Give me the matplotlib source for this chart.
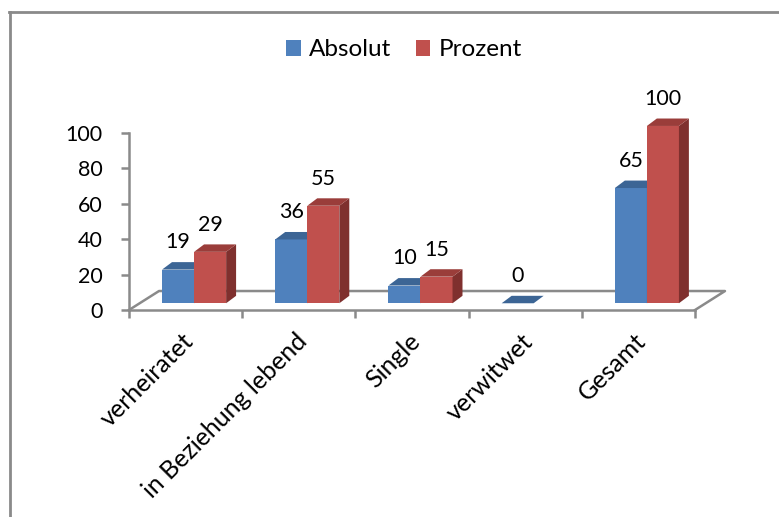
import matplotlib
matplotlib.use("Agg")
from matplotlib import pyplot as plt
from matplotlib.patches import Polygon
from matplotlib.lines import Line2D
from matplotlib.transforms import ScaledTranslation

plt.rcParams['font.family'] = ['Lato', 'DejaVu Sans']

categories = ["verheiratet", "in Beziehung lebend", "Single", "verwitwet", "Gesamt"]
absolut = [19, 36, 10, 0, 65]
prozent = [29, 55, 15, None, 100]   # no value shown for verwitwet
yticks = [0, 20, 40, 60, 80, 100]

blue, blue_top = "#4F81BD", "#3C6595"
red, red_top, red_side = "#C0504D", "#9A3D3A", "#7F302E"
grey = "#8A8A8A"
fs = 15.5

# fake 3d depth, in data units
floor_dx, floor_dy = 0.265, 10.7
shift_x, shift_y = 0.075, 3.8
bar_w = 0.283
ddx, ddy = 0.088, 4.2

fig = plt.figure(figsize=(7.79, 5.17), dpi=100)
ax = fig.add_axes([129 / 779, 207 / 517, 566 / 779, 177.3 / 517])
ax.set_xlim(0, len(categories))
ax.set_ylim(0, 100)

for s in ["top", "right"]:
    ax.spines[s].set_visible(False)
for s in ["left", "bottom"]:
    ax.spines[s].set_color(grey)
    ax.spines[s].set_linewidth(1.8)
    ax.spines[s].set_zorder(1)

n = len(categories)
# floor outline
ax.plot([0, floor_dx, n + floor_dx, n], [0, floor_dy, floor_dy, 0],
        color=grey, lw=1.8, clip_on=False, zorder=1)

ax.set_yticks(yticks)
ax.set_xticks(range(n + 1))
ax.set_xticklabels([])
ax.tick_params(axis="both", color=grey, width=1.8, length=6, labelsize=fs)
ax.tick_params(axis="y", pad=13)
ax.set_xticks([i + 0.5 for i in range(n)], minor=True)
ax.set_xticklabels(categories, minor=True, rotation=45, ha="right",
                   rotation_mode="anchor", fontsize=18)
ax.tick_params(axis="x", which="minor", length=0, pad=14)
shift = ScaledTranslation(-4 / 100, 0, fig.dpi_scale_trans)
for lab in ax.get_xticklabels(minor=True):
    lab.set_transform(lab.get_transform() + shift)


def draw_series(values, x0s, front, top, side, z, label):
    pts = [(x0, v) for x0, v in zip(x0s, values) if v is not None]
    bars = ax.bar([p[0] for p in pts], [p[1] for p in pts], width=bar_w,
                  bottom=shift_y, align="edge", color=front, zorder=z,
                  clip_on=False, label=label)
    for x0, v in pts:
        b, t = shift_y, shift_y + v
        ax.add_patch(Polygon([(x0 + bar_w, b), (x0 + bar_w, t),
                              (x0 + bar_w + ddx, t + ddy), (x0 + bar_w + ddx, b + ddy)],
                             closed=True, facecolor=side, edgecolor="none",
                             zorder=z, clip_on=False))
        ax.add_patch(Polygon([(x0, t), (x0 + bar_w, t),
                              (x0 + bar_w + ddx, t + ddy), (x0 + ddx, t + ddy)],
                             closed=True, facecolor=top, edgecolor="none",
                             zorder=z, clip_on=False))
        ax.annotate(str(v), (x0 + bar_w / 2, t), xytext=(0, 19.5),
                    textcoords="offset points", ha="center", va="center",
                    fontsize=fs, zorder=10, annotation_clip=False)
    return bars


xb = [i + 0.5 + shift_x - bar_w for i in range(n)]
xr = [i + 0.5 + shift_x for i in range(n)]
draw_series(absolut, xb, blue, blue_top, blue_top, 3, "Absolut")
draw_series(prozent, xr, red, red_top, red_side, 4, "Prozent")

leg = fig.legend(loc="center", bbox_to_anchor=(404 / 779, 1 - 50 / 517), ncol=2,
                 frameon=False, fontsize=17.5, handlelength=0.6, handleheight=0.6,
                 handletextpad=0.35, columnspacing=1.0)

# outer chart frame
fig.add_artist(Line2D([9.5 / 779, 9.5 / 779], [0, 1 - 11.5 / 517],
                      color=grey, lw=2, transform=fig.transFigure))
fig.add_artist(Line2D([9 / 779, 1], [1 - 11.5 / 517, 1 - 11.5 / 517],
                      color=grey, lw=2, transform=fig.transFigure))

fig.savefig("out.png", dpi=100)
